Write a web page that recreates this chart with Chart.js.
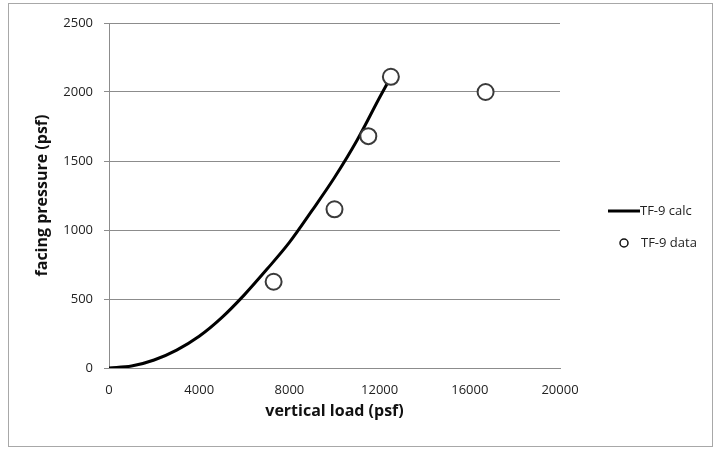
<!DOCTYPE html>
<html>
<head>
<meta charset="utf-8">
<script src="https://cdn.jsdelivr.net/npm/chart.js@4.4.0/dist/chart.umd.min.js"></script>
<style>
  html, body { margin: 0; padding: 0; background: #fff; }
  #wrap { position: relative; width: 715px; height: 450px; }
  #frame { position: absolute; left: 8px; top: 3px; width: 705px; height: 444px; border: 1px solid #a8a8a8; box-sizing: border-box; pointer-events: none; }
</style>
</head>
<body>
<div id="wrap">
  <canvas id="facingChart" width="715" height="450"></canvas>
  <div id="frame"></div>
</div>
<script>
  // calculated curve
  const calcLoad = [0, 1000, 2000, 3000, 4000, 5000, 6000, 7000, 8000, 9000, 10000, 11000, 12000, 12500];
  const calcPressure = [0, 14, 58, 130, 230, 365, 530, 715, 910, 1140, 1380, 1650, 1960, 2110];

  // measured data
  const dataLoad = [7300, 10000, 11500, 12500, 16700];
  const dataPressure = [625, 1150, 1680, 2110, 2000];

  const xTicks = [0, 4000, 8000, 12000, 16000, 20000];
  const yTicks = [0, 500, 1000, 1500, 2000, 2500];

  const seriesNames = ["TF-9 calc", "TF-9 data"];

  const toXY = (xs, ys) => xs.map((x, i) => ({ x: x, y: ys[i] }));

  const fontFamily = "'Open Sans', Lato, sans-serif";

  // legend drawn on the right, Excel style
  const sideLegend = {
    id: "sideLegend",
    afterDraw(chart) {
      const ctx = chart.ctx;
      ctx.save();
      ctx.font = "13px " + fontFamily;
      ctx.fillStyle = "#222";
      ctx.textBaseline = "middle";
      // line entry
      ctx.strokeStyle = "#000";
      ctx.lineWidth = 3;
      ctx.beginPath();
      ctx.moveTo(608, 211);
      ctx.lineTo(640, 211);
      ctx.stroke();
      ctx.fillText(seriesNames[0], 640, 211);
      // marker entry
      ctx.lineWidth = 1.5;
      ctx.strokeStyle = "#111";
      ctx.fillStyle = "#fff";
      ctx.beginPath();
      ctx.arc(624, 243, 4, 0, Math.PI * 2);
      ctx.fill();
      ctx.stroke();
      ctx.fillStyle = "#222";
      ctx.fillText(seriesNames[1], 641, 243);
      ctx.restore();
    }
  };

  new Chart(document.getElementById("facingChart"), {
    type: "scatter",
    data: {
      datasets: [
        {
          label: seriesNames[0],
          data: toXY(calcLoad, calcPressure),
          showLine: true,
          borderColor: "#000",
          borderWidth: 3,
          pointRadius: 0,
          cubicInterpolationMode: "monotone",
          order: 2,
        },
        {
          label: seriesNames[1],
          data: toXY(dataLoad, dataPressure),
          showLine: false,
          pointRadius: 8,
          pointBorderWidth: 2,
          pointBackgroundColor: "#fff",
          pointBorderColor: "#3a3a3a",
          order: 1,
        },
      ],
    },
    options: {
      responsive: false,
      animation: false,
      layout: { padding: { left: 29, top: 23, right: 155, bottom: 25 } },
      plugins: {
        legend: { display: false },
        tooltip: { enabled: false },
      },
      scales: {
        x: {
          type: "linear",
          min: 0,
          max: 20000,
          afterBuildTicks: (s) => { s.ticks = xTicks.map((v) => ({ value: v })); },
          afterFit: (s) => { s.height = 57; },
          grid: { display: false, drawTicks: true, tickLength: 5, tickColor: "#8c8c8c" },
          border: { color: "#8c8c8c", width: 1 },
          ticks: { color: "#222", font: { family: fontFamily, size: 13 }, padding: 9, maxRotation: 0, callback: (v) => String(v) },
          title: { display: true, text: "vertical load (psf)", color: "#111", font: { family: fontFamily, size: 16, weight: "bold" } },
        },
        y: {
          type: "linear",
          min: 0,
          max: 2500,
          afterBuildTicks: (s) => { s.ticks = yTicks.map((v) => ({ value: v })); },
          afterFit: (s) => { s.width = 109 - 29; },
          grid: { color: "#8c8c8c", lineWidth: 1, tickLength: 5, tickColor: "#8c8c8c" },
          border: { color: "#8c8c8c", width: 1 },
          ticks: { color: "#222", font: { family: fontFamily, size: 13 }, padding: 11, callback: (v) => String(v) },
          title: { display: true, text: "facing pressure (psf)", color: "#111", font: { family: fontFamily, size: 16, weight: "bold" } },
        },
      },
    },
    plugins: [sideLegend],
  });
</script>
</body>
</html>
